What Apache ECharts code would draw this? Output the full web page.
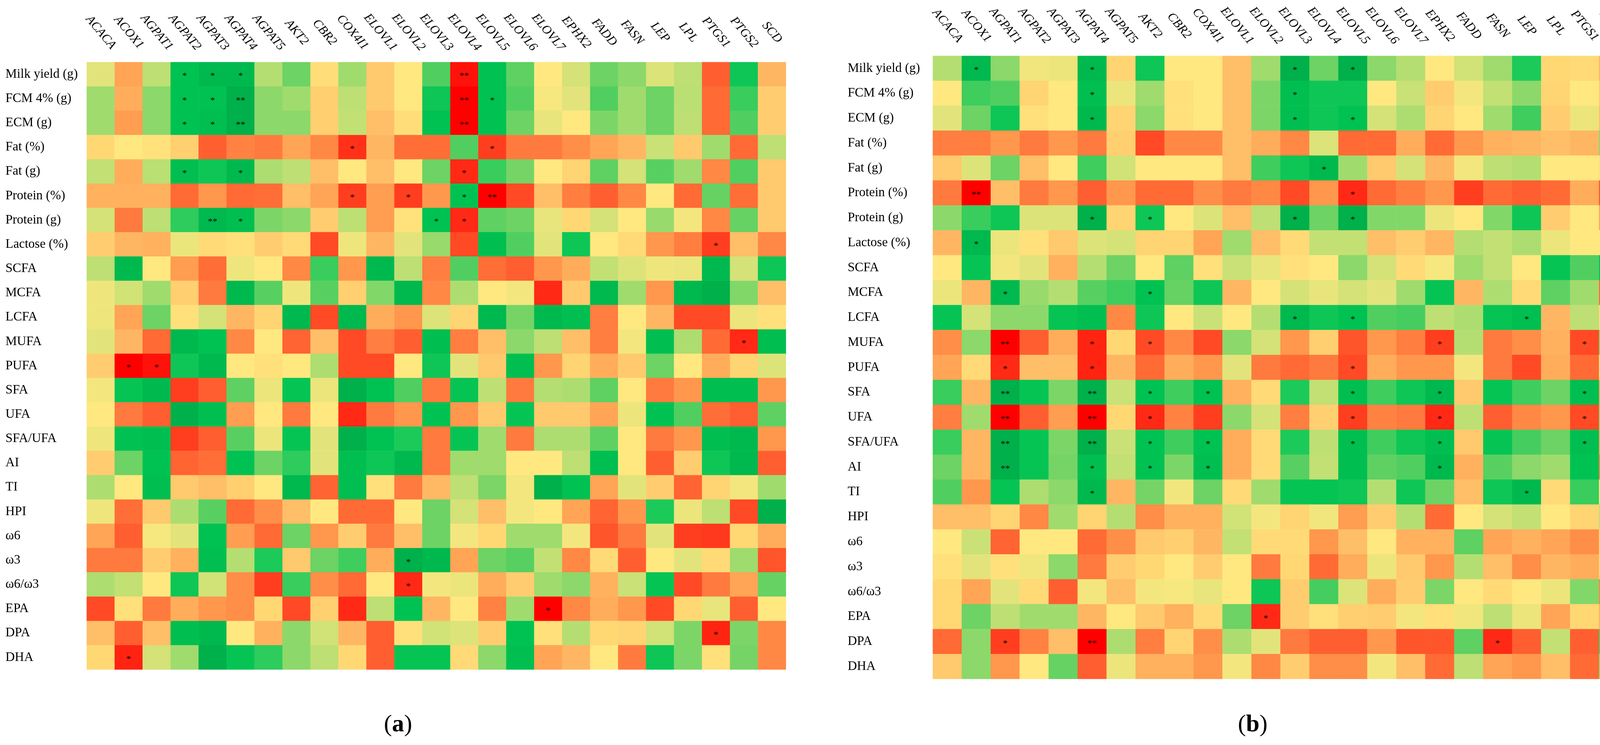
<!DOCTYPE html>
<html>
<head>
<meta charset="utf-8">
<script src="https://cdn.jsdelivr.net/npm/echarts@6/dist/echarts.min.js"></script>
<style>
html,body{margin:0;padding:0;background:#fff;}
#chart{width:4244px;height:1906px;}
</style>
</head>
<body>
<div id="chart"></div>
<script>
const genes = ['ACACA','ACOX1','AGPAT1','AGPAT2','AGPAT3','AGPAT4','AGPAT5','AKT2','CBR2','COX4I1','ELOVL1','ELOVL2','ELOVL3','ELOVL4','ELOVL5','ELOVL6','ELOVL7','EPHX2','FADD','FASN','LEP','LPL','PTGS1','PTGS2','SCD'];
const traits = ['Milk yield (g)','FCM 4% (g)','ECM (g)','Fat (%)','Fat (g)','Protein (%)','Protein (g)','Lactose (%)','SCFA','MCFA','LCFA','MUFA','PUFA','SFA','UFA','SFA/UFA','AI','TI','HPI','ω6','ω3','ω6/ω3','EPA','DPA','DHA'];

// (a) correlation values, one row per trait, columns in gene order
const valuesA = [
[0.1,-0.35,0.3,0.9,0.95,0.95,0.35,0.55,-0.05,0.4,-0.15,0,0.65,-0.95,0.9,0.6,0,0.15,0.55,0.45,0.12,0.3,-0.65,0.85,-0.25],
[0.4,-0.3,0.45,0.9,0.9,1.0,0.45,0.4,-0.12,0.3,-0.15,0,0.85,-1.0,0.9,0.65,0.03,0.1,0.65,0.4,0.55,0.32,-0.6,0.72,-0.13],
[0.4,-0.38,0.45,0.9,0.92,1.0,0.45,0.45,-0.12,0.27,-0.2,-0.05,0.9,-1.0,0.9,0.55,0.08,0,0.5,0.4,0.55,0.3,-0.6,0.65,-0.13],
[-0.08,0,-0.03,-0.12,-0.65,-0.48,-0.52,-0.35,-0.45,-0.85,-0.25,-0.58,-0.58,0.65,-0.8,-0.52,-0.52,-0.43,-0.35,-0.25,0.22,-0.15,0.4,-0.6,0.3],
[0.27,-0.3,0.32,0.92,0.85,0.95,0.37,0.3,-0.2,0,-0.2,0,0.55,-0.88,0.72,0.52,0,-0.1,0.6,0.15,0.62,0.4,-0.45,0.65,-0.15],
[-0.28,-0.28,-0.28,-0.6,-0.4,-0.6,-0.58,-0.2,-0.35,-0.8,-0.38,-0.8,-0.4,0.9,-1.0,-0.75,-0.2,-0.5,-0.65,-0.45,0,-0.6,0.57,-0.58,-0.15],
[0.15,-0.52,0.3,0.75,0.95,0.92,0.5,0.45,-0.13,0.3,-0.38,-0.03,0.9,-0.88,0.6,0.55,0.08,-0.08,0.15,0,0.42,0.04,-0.45,0.57,-0.15],
[-0.13,-0.25,-0.28,0.07,-0.07,-0.04,-0.13,-0.07,-0.75,0.06,-0.25,0.1,0.42,-0.75,0.92,0.65,0.1,0.85,0,-0.07,-0.4,-0.5,-0.8,-0.2,-0.45],
[0.3,0.95,0,-0.38,-0.58,0.06,0,-0.45,0.72,-0.4,0.95,0.3,-0.5,0.65,-0.58,-0.65,-0.4,-0.3,0.27,0.12,0.06,0.07,0.95,0.15,0.85],
[0.06,0.17,0.4,-0.12,-0.52,0.95,0.62,0.06,0.62,-0.12,0.48,0.95,-0.45,0.37,0,0.04,-0.88,-0.15,0.95,0.4,-0.4,0.95,1.0,0.48,-0.2],
[0.06,-0.35,0.55,-0.04,0.15,-0.25,-0.1,0.95,-0.75,0.95,-0.3,-0.4,0.12,-0.1,0.95,0.52,0.95,0.92,-0.5,0,-0.25,-0.75,-0.75,0.07,-0.04],
[0.1,-0.25,-0.6,0.95,0.9,-0.45,0,-0.63,-0.2,-0.75,-0.5,-0.65,0.92,-0.5,-0.2,0.45,0.3,-0.2,-0.5,0.04,0.92,0.37,-0.6,-0.88,0.92],
[-0.13,-1.0,-0.95,0.85,0.95,0,-0.04,0,0.37,-0.75,-0.75,0,0.85,0.1,-0.15,0.92,-0.4,-0.1,-0.3,-0.15,0.55,0,-0.3,-0.1,0.12],
[0.04,0.88,0.95,-0.8,-0.65,0.6,0.07,0.88,0.07,1.0,0.9,0.65,-0.52,0.88,0.3,-0.52,0.35,0.37,0.6,0,-0.52,-0.4,0.92,0.92,-0.4],
[0,-0.52,-0.65,1.0,0.92,-0.38,0,-0.52,0,-0.88,-0.52,-0.4,0.9,-0.4,-0.15,0.88,-0.15,-0.15,-0.35,0.07,0.9,0.65,-0.58,-0.65,0.6],
[0.06,0.9,0.92,-0.8,-0.65,0.62,0.07,0.88,0.1,1.0,0.9,0.8,-0.52,0.88,0.4,-0.52,0.37,0.37,0.6,0,-0.52,-0.4,0.92,0.95,-0.4],
[-0.13,0.55,0.9,-0.63,-0.58,0.9,0.55,0.75,0.1,0.92,0.85,0.95,-0.52,0.4,0.4,0,0,0.3,0.92,0,-0.65,-0.13,0.85,0.95,-0.65],
[0.37,0,0.92,-0.15,-0.2,-0.12,0,0.95,-0.63,0.92,-0.04,-0.52,-0.23,0.3,0.5,0.04,1.0,0.9,-0.35,0.1,-0.13,-0.63,-0.1,0.04,0.4],
[0.06,-0.58,-0.15,0.37,0.62,-0.6,-0.43,-0.2,0,-0.6,-0.6,0,0.55,0.15,-0.2,0.04,0,-0.35,-0.63,-0.4,0.8,0.07,0.3,-0.75,1.0],
[-0.35,-0.65,0.03,0.1,0.9,-0.38,-0.6,0.55,-0.4,-0.13,-0.52,-0.2,0.55,0.04,-0.08,0.4,0.4,0.04,-0.7,-0.52,0.1,-0.8,-0.82,-0.08,-0.3],
[-0.52,-0.52,-0.13,-0.28,0.92,0.35,0.8,-0.15,0.55,0.7,-0.3,1.0,0.95,-0.35,0.55,0.62,0.27,-0.45,-0.07,-0.65,0,0.1,-0.07,0.4,-0.7],
[0.37,0.27,0,0.85,0.17,-0.43,-0.8,0.72,-0.43,-0.6,0,-0.88,0.04,0.07,-0.3,-0.13,0.4,0.45,-0.28,0.22,0.88,-0.75,-0.52,-0.35,0.57],
[-0.75,-0.04,-0.52,-0.3,-0.4,-0.43,-0.08,-0.75,-0.12,-0.88,0.3,0.9,-0.25,0,-0.48,0.4,-1.0,-0.45,-0.3,-0.4,-0.75,-0.08,0.08,-0.65,0],
[-0.2,-0.65,-0.2,0.92,0.95,0,-0.28,0.45,0.17,-0.25,-0.65,-0.04,0.17,0.12,-0.13,0.9,-0.04,0.35,-0.08,-0.1,0.17,0.5,-0.9,0.5,-0.45],
[-0.08,-0.9,0.15,0.4,1.0,0.88,0.75,0.45,0.3,-0.08,-0.65,0.88,0.88,-0.07,0.45,0.92,-0.35,-0.25,0,-0.52,0.85,0.5,-0.04,0.52,-0.45]
];

// (b) correlation values
const valuesB = [
[0.35,0.95,0.45,0.05,0.07,0.95,-0.1,0.85,0,0,-0.2,0.4,1.0,0.55,1.0,0.45,0.35,0,0.17,0.4,0.8,-0.08,-0.07,-0.28,0.3],
[0,0.7,0.65,-0.1,0,0.92,0.07,0.4,-0.04,0,-0.2,0.5,0.92,0.85,0.85,0,0.22,-0.13,0.04,0.27,0.45,-0.1,0,-0.15,0],
[0.1,0.55,0.85,-0.04,0,0.95,-0.1,0.45,-0.04,0,-0.2,0.5,0.92,0.85,0.9,0.15,0.37,-0.1,0,0.4,0.7,-0.13,0.07,-0.2,0.1],
[-0.5,-0.5,-0.4,-0.52,-0.4,-0.52,-0.12,-0.75,-0.45,-0.45,-0.2,-0.3,-0.45,0.12,-0.6,-0.6,-0.3,-0.6,-0.4,-0.28,-0.25,-0.2,-0.25,0.45,-0.43],
[-0.15,0.12,0.55,-0.2,0,0.7,0.17,0,0,0,-0.2,0.7,0.85,0.95,0.4,-0.15,0.15,-0.25,0.04,0.3,0.35,0,0,-0.04,-0.1],
[-0.52,-1.0,-0.2,-0.52,-0.4,-0.65,-0.4,-0.6,-0.6,-0.43,-0.52,-0.45,-0.75,-0.4,-0.88,-0.6,-0.5,-0.4,-0.8,-0.6,-0.65,-0.6,-0.3,-0.7,-0.6],
[0.45,0.72,0.85,0.12,0.12,1.0,-0.1,0.85,0,0.12,-0.2,0.3,1.0,0.55,1.0,0.48,0.48,0.07,0,0.48,0.85,-0.13,0,-0.35,0.35],
[-0.25,0.95,0.07,-0.04,-0.15,0.12,0.15,-0.1,-0.1,-0.35,0.4,-0.2,-0.07,0.27,0.27,-0.2,-0.13,-0.25,0.35,0.27,0.37,0.07,0,0,-0.2],
[0,0.88,0.04,0.1,-0.28,0.35,0.55,0,0.6,-0.04,0.22,0.08,-0.04,0,0.45,0.15,-0.07,0.03,0.4,0.27,0,0.88,0.65,0.9,0.12],
[0.07,-0.25,0.95,0.42,0.35,0.62,0.7,0.9,0.57,0.85,-0.25,0,0.15,0.08,0.15,0.1,0.4,0.88,-0.25,0.37,-0.07,0.6,0.4,-0.6,-0.2],
[0.88,0.15,0.45,0.45,0.88,0.92,-0.45,0.85,0,0.22,0,0.35,0.95,0.85,0.9,0.65,0.68,0.3,0.37,0.88,0.92,-0.25,0.3,-0.07,0.88],
[-0.43,0.45,-1.0,-0.65,-0.3,-0.9,-0.08,-0.75,-0.45,-0.75,0.45,0.15,-0.4,-0.12,-0.7,-0.4,-0.5,-0.8,0.35,-0.52,-0.43,-0.28,-0.75,0.45,-0.25],
[-0.35,-0.07,-0.88,-0.2,-0.2,-0.9,-0.25,-0.6,-0.3,-0.4,0.1,-0.52,-0.6,-0.52,-0.75,-0.3,-0.4,-0.4,0.04,-0.52,-0.75,-0.3,-0.6,0.03,-0.2],
[0.72,-0.25,1.0,0.88,0.5,1.0,0.22,0.9,0.7,0.9,-0.28,-0.07,0.8,0.27,0.92,0.7,0.85,0.95,-0.15,0.88,0.7,0.55,0.92,-0.3,0.55],
[-0.5,0.4,-1.0,-0.65,-0.38,-1.0,-0.08,-0.88,-0.48,-0.8,0.45,0.15,-0.5,-0.12,-0.8,-0.48,-0.52,-0.88,0.3,-0.65,-0.45,-0.4,-0.75,0.4,-0.38],
[0.72,-0.25,1.0,0.88,0.5,1.0,0.22,0.9,0.7,0.9,-0.3,-0.07,0.8,0.3,0.92,0.7,0.85,0.92,-0.15,0.88,0.68,0.55,0.92,-0.3,0.55],
[0.55,-0.25,1.0,0.88,0.52,0.92,0.27,0.9,0.5,0.92,-0.3,-0.07,0.62,0.27,0.92,0.6,0.65,0.95,-0.28,0.62,0.45,0.4,0.9,-0.45,0.35],
[0.65,-0.4,0.88,0.37,0.45,0.95,-0.25,0.52,0.05,0.55,-0.07,0.4,0.88,0.88,0.85,0.35,0.85,0.55,-0.2,0.85,0.95,-0.07,0.72,0,0.6],
[-0.2,-0.2,-0.1,-0.45,0.4,-0.1,0.35,-0.43,-0.28,-0.28,0.17,0.04,-0.1,0.05,-0.38,-0.13,0.35,-0.6,0,0.15,0.27,0,-0.1,0.3,-0.3],
[0,0.22,-0.63,0,0,-0.6,-0.43,-0.15,-0.12,-0.25,0.27,-0.07,-0.07,-0.4,-0.2,0,-0.28,-0.28,0.6,-0.35,-0.28,-0.35,-0.43,-0.07,0.05],
[-0.04,0.1,-0.04,0.05,0.45,-0.52,-0.13,-0.08,0,-0.13,0,-0.52,-0.08,-0.6,-0.3,0.07,-0.15,-0.4,0.35,-0.2,-0.43,-0.25,-0.3,-0.07,0],
[-0.08,-0.35,0.1,-0.07,-0.65,0.04,-0.2,0.04,0.03,0.08,0,0.85,-0.13,0.68,0.12,-0.3,-0.13,0.5,0,-0.07,0,0.07,0.48,-0.48,-0.15],
[-0.08,0.55,0.3,0.4,0.4,-0.25,0,-0.15,-0.28,-0.07,0.55,-0.88,-0.13,-0.04,-0.12,-0.13,0.04,-0.04,0.05,0.3,0.07,-0.35,-0.08,-0.28,0],
[-0.6,0.45,-0.8,-0.48,-0.2,-1.0,0.37,-0.5,-0.1,-0.43,0.37,0.1,-0.52,-0.65,-0.65,-0.4,-0.7,-0.7,0.6,-0.88,-0.65,0.27,-0.65,0.65,-0.52],
[-0.15,0.45,-0.4,0,0.57,-0.65,0.07,-0.28,-0.28,-0.4,0.04,-0.45,-0.13,-0.43,-0.43,0.04,-0.2,-0.6,0.3,-0.35,-0.4,-0.2,-0.6,0.42,-0.04]
];

// significance marks: [trait, gene, mark]
const starsA = [
['Milk yield (g)','AGPAT2','*'],['Milk yield (g)','AGPAT3','*'],['Milk yield (g)','AGPAT4','*'],['Milk yield (g)','ELOVL4','**'],
['FCM 4% (g)','AGPAT2','*'],['FCM 4% (g)','AGPAT3','*'],['FCM 4% (g)','AGPAT4','**'],['FCM 4% (g)','ELOVL4','**'],['FCM 4% (g)','ELOVL5','*'],
['ECM (g)','AGPAT2','*'],['ECM (g)','AGPAT3','*'],['ECM (g)','AGPAT4','**'],['ECM (g)','ELOVL4','**'],
['Fat (%)','COX4I1','*'],['Fat (%)','ELOVL5','*'],
['Fat (g)','AGPAT2','*'],['Fat (g)','AGPAT4','*'],['Fat (g)','ELOVL4','*'],
['Protein (%)','COX4I1','*'],['Protein (%)','ELOVL2','*'],['Protein (%)','ELOVL4','*'],['Protein (%)','ELOVL5','**'],
['Protein (g)','AGPAT3','**'],['Protein (g)','AGPAT4','*'],['Protein (g)','ELOVL3','*'],['Protein (g)','ELOVL4','*'],
['Lactose (%)','PTGS1','*'],
['MUFA','PTGS2','*'],
['PUFA','ACOX1','*'],['PUFA','AGPAT1','*'],
['ω3','ELOVL2','*'],
['ω6/ω3','ELOVL2','*'],
['EPA','ELOVL7','*'],
['DPA','PTGS1','*'],
['DHA','ACOX1','*']
];
const starsB = [
['Milk yield (g)','ACOX1','*'],['Milk yield (g)','AGPAT4','*'],['Milk yield (g)','ELOVL3','*'],['Milk yield (g)','ELOVL5','*'],
['FCM 4% (g)','AGPAT4','*'],['FCM 4% (g)','ELOVL3','*'],
['ECM (g)','AGPAT4','*'],['ECM (g)','ELOVL3','*'],['ECM (g)','ELOVL5','*'],
['Fat (g)','ELOVL4','*'],
['Protein (%)','ACOX1','**'],['Protein (%)','ELOVL5','*'],
['Protein (g)','AGPAT4','*'],['Protein (g)','AKT2','*'],['Protein (g)','ELOVL3','*'],['Protein (g)','ELOVL5','*'],
['Lactose (%)','ACOX1','*'],
['MCFA','AGPAT1','*'],['MCFA','AKT2','*'],
['LCFA','ELOVL3','*'],['LCFA','ELOVL5','*'],['LCFA','LEP','*'],
['MUFA','AGPAT1','**'],['MUFA','AGPAT4','*'],['MUFA','AKT2','*'],['MUFA','EPHX2','*'],['MUFA','PTGS1','*'],
['PUFA','AGPAT1','*'],['PUFA','AGPAT4','*'],['PUFA','ELOVL5','*'],
['SFA','AGPAT1','**'],['SFA','AGPAT4','**'],['SFA','AKT2','*'],['SFA','COX4I1','*'],['SFA','ELOVL5','*'],['SFA','EPHX2','*'],['SFA','PTGS1','*'],
['UFA','AGPAT1','**'],['UFA','AGPAT4','**'],['UFA','AKT2','*'],['UFA','ELOVL5','*'],['UFA','EPHX2','*'],['UFA','PTGS1','*'],
['SFA/UFA','AGPAT1','**'],['SFA/UFA','AGPAT4','**'],['SFA/UFA','AKT2','*'],['SFA/UFA','COX4I1','*'],['SFA/UFA','ELOVL5','*'],['SFA/UFA','EPHX2','*'],['SFA/UFA','PTGS1','*'],
['AI','AGPAT1','**'],['AI','AGPAT4','*'],['AI','AKT2','*'],['AI','COX4I1','*'],['AI','EPHX2','*'],
['TI','AGPAT4','*'],['TI','LEP','*'],
['EPA','ELOVL2','*'],
['DPA','AGPAT1','*'],['DPA','AGPAT4','**'],['DPA','FASN','*']
];

// colour ramp (red - yellow - green)
const stops = [[-1,'#FF0000'],[-0.88,'#FF2A16'],[-0.75,'#FF4A25'],[-0.6,'#FF6A35'],[-0.45,'#FF8845'],[-0.35,'#FFA555'],[-0.2,'#FFBE68'],[-0.08,'#FFD874'],[0,'#FFE880'],[0.15,'#D4E278'],[0.35,'#B5DE72'],[0.45,'#8CD86A'],[0.55,'#6CD364'],[0.65,'#50CF60'],[0.8,'#1CCA5A'],[0.9,'#00C252'],[1,'#00B04A']];
function hex2rgb(h){return [parseInt(h.substr(1,2),16),parseInt(h.substr(3,2),16),parseInt(h.substr(5,2),16)];}
function colorAt(v){
  for(let i=0;i<stops.length-1;i++){
    const a=stops[i],b=stops[i+1];
    if(v>=a[0]-1e-9 && v<=b[0]+1e-9){
      const t=(v-a[0])/(b[0]-a[0]);const ca=hex2rgb(a[1]),cb=hex2rgb(b[1]);
      const c=ca.map((x,k)=>Math.round(x+(cb[k]-x)*t));
      return 'rgb('+c.join(',')+')';
    }
  }
  return stops[stops.length-1][1];
}
const ramp=[];for(let i=0;i<=80;i++){ramp.push(colorAt(-1+i*0.025));}

function buildData(values, stars){
  const m={};stars.forEach(s=>{m[s[0]+'|'+s[1]]=s[2];});
  const out=[];
  values.forEach((row,r)=>row.forEach((v,c)=>{out.push([c,r,v,m[traits[r]+'|'+genes[c]]||'']);}));
  return out;
}
const dataA=buildData(valuesA,starsA);
const dataB=buildData(valuesB,starsB);

const FONT='Liberation Serif';
function xAx(gi,margin){return {type:'category',gridIndex:gi,data:genes,position:'top',
  axisLine:{show:false},axisTick:{show:false},splitLine:{show:false},
  axisLabel:{interval:0,rotate:50,align:'center',verticalAlign:'middle',margin:margin,fontFamily:FONT,fontStyle:'italic',fontSize:32,color:'#000'}};}
function yAx(gi,margin){return {type:'category',gridIndex:gi,data:traits,inverse:true,
  axisLine:{show:false},axisTick:{show:false},splitLine:{show:false},
  axisLabel:{interval:0,align:'left',margin:margin,fontFamily:FONT,fontSize:33,color:'#000'}};}
function hm(idx,data){return {type:'heatmap',xAxisIndex:idx,yAxisIndex:idx,data:data,
  itemStyle:{borderWidth:0},emphasis:{disabled:true},
  label:{show:true,formatter:p=>p.data[3],color:'#000',fontSize:24,fontFamily:FONT,offset:[0,5]}};}

const chart=echarts.init(document.getElementById('chart'),null,{renderer:'canvas'});
chart.setOption({
  backgroundColor:'#fff',
  animation:false,
  grid:[{left:222,top:159,width:1790,height:1554},{left:2388,top:143,width:1854,height:1594}],
  xAxis:[xAx(0,76),xAx(1,77)],
  yAxis:[yAx(0,208),yAx(1,218)],
  visualMap:{type:'continuous',show:false,min:-1,max:1,dimension:2,seriesIndex:[0,1],inRange:{color:ramp}},
  series:[hm(0,dataA),hm(1,dataB)],
  graphic:[
    {type:'text',x:1019,y:1855,style:{text:'{p|(}{b|a}{p|)}',textAlign:'center',textVerticalAlign:'middle',
      rich:{p:{fontFamily:FONT,fontSize:62,fill:'#000'},b:{fontFamily:FONT,fontSize:62,fontWeight:'bold',fill:'#000'}}}},
    {type:'text',x:3207,y:1855,style:{text:'{p|(}{b|b}{p|)}',textAlign:'center',textVerticalAlign:'middle',
      rich:{p:{fontFamily:FONT,fontSize:62,fill:'#000'},b:{fontFamily:FONT,fontSize:62,fontWeight:'bold',fill:'#000'}}}}
  ]
});
</script>
</body>
</html>
